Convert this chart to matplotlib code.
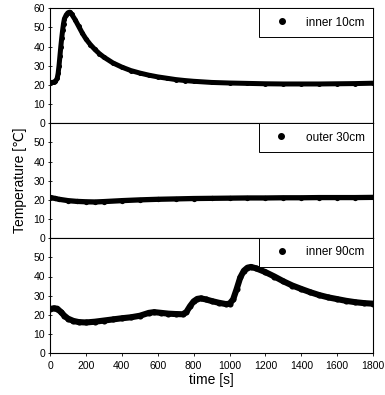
import matplotlib
matplotlib.use("Agg")
import matplotlib.pyplot as plt
from matplotlib.lines import Line2D

plt.rcParams['font.family'] = ['Liberation Sans', 'DejaVu Sans']

# inner 10cm
t_in10 = [0, 10, 20, 30, 40, 45, 50, 55, 60, 65, 70, 75, 80, 90, 100, 110,
          120, 140, 160, 180, 200, 225, 250, 275, 300, 350, 400, 450, 500,
          550, 600, 650, 700, 750, 800, 900, 1000, 1100, 1200, 1300, 1400,
          1500, 1600, 1700, 1800]
T_in10 = [21.2, 21.3, 21.4, 21.8, 23.5, 26.0, 30.0, 35.0, 40.0, 44.5, 48.5,
          52.0, 54.5, 56.5, 57.7, 58.0, 57.0, 54.0, 50.5, 47.0, 44.0, 41.0,
          38.5, 36.3, 34.5, 31.5, 29.3, 27.5, 26.2, 25.1, 24.2, 23.5, 22.8,
          22.3, 21.9, 21.3, 21.0, 20.8, 20.6, 20.5, 20.5, 20.5, 20.6, 20.7,
          20.9]

# outer 30cm
t_out30 = [0, 25, 50, 100, 150, 200, 250, 300, 400, 500, 600, 700, 800, 900,
           1000, 1100, 1200, 1300, 1400, 1500, 1600, 1700, 1800]
T_out30 = [21.3, 20.8, 20.3, 19.6, 19.2, 19.0, 18.9, 19.1, 19.6, 20.0, 20.3,
           20.5, 20.7, 20.8, 20.9, 21.0, 21.0, 21.1, 21.1, 21.2, 21.2, 21.2,
           21.3]

# inner 90cm
t_in90 = [0, 20, 40, 60, 80, 100, 130, 160, 200, 250, 300, 350, 400, 450,
          500, 550, 580, 620, 660, 700, 740, 760, 780, 800, 820, 840, 870,
          900, 940, 980, 1000, 1020, 1040, 1060, 1080, 1100, 1120, 1150,
          1200, 1250, 1300, 1350, 1400, 1450, 1500, 1550, 1600, 1650, 1700,
          1750, 1800]
T_in90 = [23.0, 23.4, 23.2, 21.5, 19.5, 18.0, 16.8, 16.2, 16.0, 16.4, 17.0,
          17.6, 18.2, 18.7, 19.5, 21.0, 21.4, 21.0, 20.6, 20.4, 20.3, 21.5,
          24.5, 27.0, 28.3, 28.6, 28.0, 27.2, 26.3, 25.6, 25.8, 28.0, 33.5,
          39.5, 43.0, 44.6, 45.0, 44.2, 42.3, 40.0, 37.5, 35.3, 33.5, 31.8,
          30.3, 29.1, 28.2, 27.3, 26.6, 26.1, 25.8]

series = [(t_in10, T_in10, 'inner 10cm', 3.6),
          (t_out30, T_out30, 'outer 30cm', 3.8),
          (t_in90, T_in90, 'inner 90cm', 4.4)]

fig, axes = plt.subplots(3, 1, sharex=True, figsize=(3.85, 3.95), dpi=100)
fig.subplots_adjust(left=0.13, right=0.969, top=0.979, bottom=0.106, hspace=0)

for i, (ax, (t, T, label, w)) in enumerate(zip(axes, series)):
    # markers the same size as the line so the trace looks like dense dots
    ax.plot(t, T, 'o-', color='black', ms=w, mew=0, lw=w,
            solid_capstyle='round', solid_joinstyle='round')
    ax.set_xlim(0, 1800)
    ax.set_ylim(0, 60)
    if i == 0:
        ax.set_yticks(range(0, 61, 10))
    else:
        ax.set_yticks(range(0, 51, 10))
    ax.set_xticks(range(0, 1801, 200))
    ax.tick_params(axis='y', direction='inout', length=3, width=0.6,
                   labelsize=7.5, pad=2)
    ax.tick_params(axis='x', direction='out', length=2, width=0.6,
                   labelsize=7.5, pad=4)
    for sp in ax.spines.values():
        sp.set_linewidth(0.8)
    handle = Line2D([], [], marker='o', ls='none', color='black', ms=4)
    leg = ax.legend([handle], [label], loc='upper right', borderaxespad=0,
                    fancybox=False, framealpha=1, edgecolor='black',
                    fontsize=8.5, borderpad=0.7, handlelength=2.4,
                    handletextpad=0.9)
    leg.get_frame().set_linewidth(0.7)

axes[1].set_ylabel('Temperature [℃]', fontsize=10, labelpad=5)
axes[2].set_xlabel('time [s]', fontsize=10, labelpad=1)

plt.savefig('out.png', dpi=100)
